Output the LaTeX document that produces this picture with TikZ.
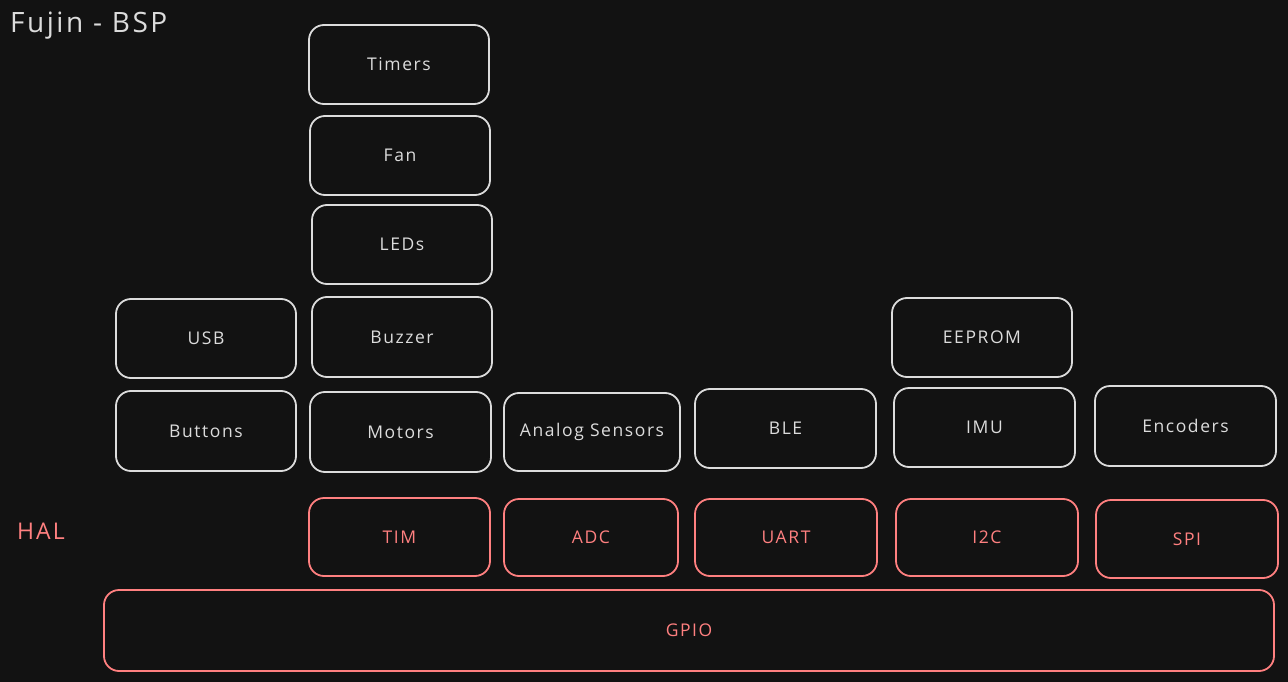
\documentclass[tikz,border=0pt]{standalone}
\usepackage{fontspec}
\setmainfont{Open Sans}[LetterSpace=9]
\definecolor{bg}{HTML}{121212}
\definecolor{fg}{HTML}{DCDCDC}
\definecolor{hal}{HTML}{FF8080}
\begin{document}
\begin{tikzpicture}[x=1pt,y=-1pt,
  blk/.style={draw=fg,text=fg,line width=1.8pt,rounded corners=15pt,font=\fontsize{17.5}{19}\selectfont,inner sep=0pt},
  halblk/.style={blk,draw=hal,text=hal},
  lbl/.style={anchor=west,inner sep=0pt}]
\fill[bg] (0,0) rectangle (1288,682);
\useasboundingbox (0,0) rectangle (1288,682);
% BSP blocks
\node[blk,minimum width=180,minimum height=79] (timers) at (399,64.5) {Timers};
\node[blk,minimum width=180,minimum height=79] (fan) at (400,155.5) {Fan};
\node[blk,minimum width=180,minimum height=79] (leds) at (402,244.5) {LEDs};
\node[blk,minimum width=180,minimum height=80] (buzzer) at (402,337) {Buzzer};
\node[blk,minimum width=180,minimum height=79] (usb) at (206,338.5) {USB};
\node[blk,minimum width=180,minimum height=80] (buttons) at (206,431) {Buttons};
\node[blk,minimum width=181,minimum height=80] (motors) at (400.5,432) {Motors};
\node[blk,minimum width=176,minimum height=78] (analog) at (592,432) {Analog Sensors};
\node[blk,minimum width=181,minimum height=79] (ble) at (785.5,428.5) {BLE};
\node[blk,minimum width=180,minimum height=79] (eeprom) at (982,337.5) {EEPROM};
\node[blk,minimum width=181,minimum height=79] (imu) at (984.5,427.5) {IMU};
\node[blk,minimum width=181,minimum height=80] (encoders) at (1185.5,426) {Encoders};
% HAL blocks
\node[halblk,minimum width=181,minimum height=78] (tim) at (399.5,537) {TIM};
\node[halblk,minimum width=174,minimum height=77] (adc) at (591,537.5) {ADC};
\node[halblk,minimum width=182,minimum height=77] (uart) at (786,537.5) {UART};
\node[halblk,minimum width=182,minimum height=77] (i2c) at (987,537.5) {I2C};
\node[halblk,minimum width=182,minimum height=78] (spi) at (1187,539) {SPI};
\node[halblk,minimum width=1170,minimum height=81] (gpio) at (689,630.5) {GPIO};
% labels
\node[lbl,text=fg,font=\fontsize{28}{30}\selectfont] (title) at (10,26) {Fujin - BSP};
\node[lbl,text=hal,font=\fontsize{23}{25}\selectfont] (hallbl) at (17,531) {HAL};
\end{tikzpicture}
\end{document}
